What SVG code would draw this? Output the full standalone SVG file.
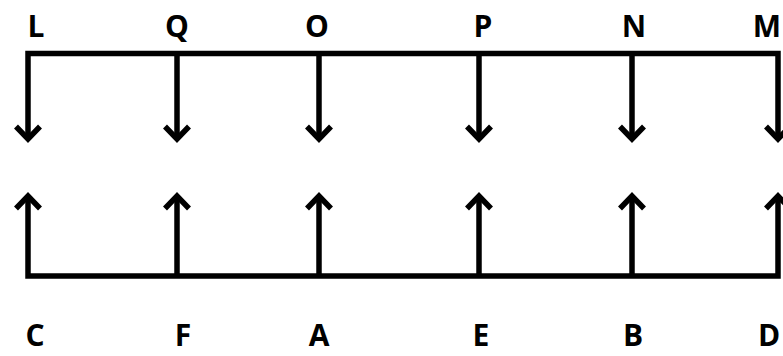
<svg xmlns="http://www.w3.org/2000/svg" width="783" height="356" viewBox="0 0 783 356">
<style>
  .lbl { font-family: "Open Sans", "Liberation Sans", sans-serif; font-weight: bold; font-size: 30px; fill: #000; text-anchor: middle; }
  .wire { fill: none; stroke: #000; stroke-width: 5.5; stroke-linejoin: miter; }
</style>
<defs>
  <marker id="ah" markerUnits="userSpaceOnUse" viewBox="-20 -20 40 40" markerWidth="40" markerHeight="40" refX="0" refY="0" orient="auto-start-reverse" overflow="visible">
    <path d="M -12.5,-12 L 0,0 L -12.5,12" fill="none" stroke="#000" stroke-width="5.5" stroke-linejoin="miter"/>
  </marker>
</defs>
<rect width="783" height="356" fill="#fff"/>
<g id="connectors">
  <path class="wire" d="M 28,139 V 53.5 H 778 V 139" marker-start="url(#ah)" marker-end="url(#ah)"/>
  <path class="wire" d="M 177,53.5 V 139" marker-end="url(#ah)"/>
  <path class="wire" d="M 319,53.5 V 139" marker-end="url(#ah)"/>
  <path class="wire" d="M 479,53.5 V 139" marker-end="url(#ah)"/>
  <path class="wire" d="M 632,53.5 V 139" marker-end="url(#ah)"/>
  <path class="wire" d="M 28,196 V 276 H 778 V 196" marker-start="url(#ah)" marker-end="url(#ah)"/>
  <path class="wire" d="M 177,276 V 196" marker-end="url(#ah)"/>
  <path class="wire" d="M 319,276 V 196" marker-end="url(#ah)"/>
  <path class="wire" d="M 479,276 V 196" marker-end="url(#ah)"/>
  <path class="wire" d="M 632,276 V 196" marker-end="url(#ah)"/>
</g>
<g id="node-L"><text class="lbl" x="36" y="37">L</text></g>
<g id="node-Q"><text class="lbl" x="177" y="37">Q</text></g>
<g id="node-O"><text class="lbl" x="317" y="37">O</text></g>
<g id="node-P"><text class="lbl" x="483" y="37">P</text></g>
<g id="node-N"><text class="lbl" x="634" y="37">N</text></g>
<g id="node-M"><text class="lbl" x="767" y="37">M</text></g>
<g id="node-C"><text class="lbl" x="35" y="346">C</text></g>
<g id="node-F"><text class="lbl" x="183" y="346">F</text></g>
<g id="node-A"><text class="lbl" x="319" y="346">A</text></g>
<g id="node-E"><text class="lbl" x="481" y="346">E</text></g>
<g id="node-B"><text class="lbl" x="633" y="346">B</text></g>
<g id="node-D"><text class="lbl" x="769" y="346">D</text></g>
</svg>
